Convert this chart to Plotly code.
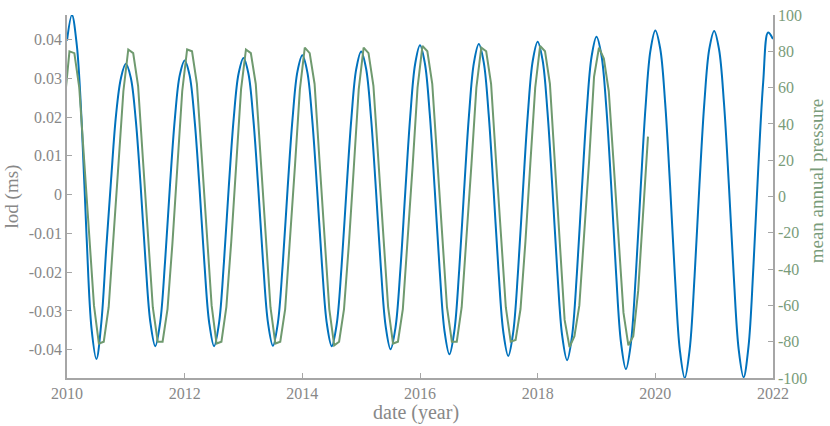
import numpy as np
import plotly.graph_objects as go

# lod (ms), monthly samples starting Jan 2010, last sample Jan 2022
lod_ms = [
    0.0397, 0.0463, 0.0385, 0.0185, -0.0110, -0.0345, -0.0424, -0.0330, -0.0140, 0.0040, 0.0205, 0.0300,
    0.0337, 0.0302, 0.0196, 0.0027, -0.0169, -0.0329, -0.0391, -0.0330, -0.0173, 0.0023, 0.0196, 0.0308,
    0.0346, 0.0308, 0.0196, 0.0023, -0.0173, -0.0330, -0.0391, -0.0332, -0.0176, 0.0020, 0.0196, 0.0312,
    0.0352, 0.0312, 0.0195, 0.0019, -0.0176, -0.0331, -0.0390, -0.0332, -0.0180, 0.0016, 0.0195, 0.0317,
    0.0359, 0.0317, 0.0196, 0.0016, -0.0180, -0.0333, -0.0391, -0.0335, -0.0185, 0.0011, 0.0196, 0.0324,
    0.0369, 0.0325, 0.0200, 0.0015, -0.0185, -0.0340, -0.0399, -0.0343, -0.0193, 0.0007, 0.0200, 0.0336,
    0.0385, 0.0338, 0.0206, 0.0014, -0.0192, -0.0352, -0.0412, -0.0352, -0.0194, 0.0012, 0.0206, 0.0340,
    0.0388, 0.0341, 0.0208, 0.0014, -0.0194, -0.0355, -0.0416, -0.0356, -0.0197, 0.0011, 0.0208, 0.0345,
    0.0394, 0.0347, 0.0214, 0.0017, -0.0197, -0.0364, -0.0427, -0.0366, -0.0204, 0.0010, 0.0214, 0.0356,
    0.0407, 0.0360, 0.0225, 0.0022, -0.0204, -0.0382, -0.0450, -0.0385, -0.0212, 0.0014, 0.0225, 0.0371,
    0.0423, 0.0376, 0.0237, 0.0025, -0.0212, -0.0401, -0.0473, -0.0400, -0.0211, 0.0026, 0.0237, 0.0375,
    0.0422, 0.0374, 0.0236, 0.0025, -0.0211, -0.0399, -0.0471, -0.0392, -0.0187, 0.0069, 0.0290, 0.0418,
    0.0401,
]
lod_start = 2010.0

# mean annual pressure, mid-month samples from Dec 2009 to Nov 2019
pressure = [
    52,
    80, 79, 60, 20, -22, -60, -81, -80, -61, -24, 18, 58,
    81, 79, 61, 20, -22, -61, -80, -80, -62, -26, 16, 58,
    81, 80, 62, 21, -21, -60, -81, -80, -61, -25, 17, 59,
    81, 79, 62, 21, -22, -61, -81, -80, -62, -25, 17, 59,
    82, 79, 62, 20, -23, -62, -82, -80, -62, -26, 16, 59,
    82, 79, 61, 20, -22, -61, -81, -80, -62, -25, 17, 60,
    83, 80, 62, 21, -21, -61, -80, -80, -61, -24, 18, 60,
    82, 80, 62, 20, -22, -61, -80, -79, -62, -25, 18, 60,
    83, 80, 62, 19, -24, -68, -83, -77, -60, -22, 20, 66,
    82, 76, 58, 18, -24, -64, -82, -77, -52, -10, 33,
]
pressure_start = 2009 + 11.5 / 12

left_ticks = [-0.04, -0.03, -0.02, -0.01, 0, 0.01, 0.02, 0.03, 0.04]
left_labels = ["-0.04", "-0.03", "-0.02", "-0.01", "0", "0.01", "0.02", "0.03", "0.04"]
right_ticks = [-100, -80, -60, -40, -20, 0, 20, 40, 60, 80, 100]
x_ticks = [2010, 2012, 2014, 2016, 2018, 2020, 2022]

lod_x = lod_start + np.arange(len(lod_ms)) / 12
pressure_x = pressure_start + np.arange(len(pressure)) / 12

BLUE = "#0072BD"
GREEN = "#6f9a6f"
GREEN_TXT = "#7a9c7a"
GREY = "#888888"
AXIS = "#a6a6a6"
FONT = "Liberation Serif"
TICK_FONT = dict(family=FONT, size=16, color=GREY)

fig = go.Figure()
fig.add_trace(go.Scatter(x=lod_x, y=lod_ms, mode="lines", line=dict(color=BLUE, width=2, shape="spline"),
                         name="lod", yaxis="y"))
fig.add_trace(go.Scatter(x=pressure_x, y=pressure, mode="lines", line=dict(color=GREEN, width=2),
                         name="mean annual pressure", yaxis="y2"))

axis_common = dict(showline=True, linecolor=AXIS, linewidth=1.5, ticks="inside", ticklen=5,
                   tickcolor=AXIS, showgrid=False, zeroline=False, ticklabeloverflow="allow")

fig.update_layout(
    width=830, height=426,
    margin=dict(l=67, r=57, t=7, b=48),
    paper_bgcolor="white", plot_bgcolor="white",
    showlegend=False,
    font=dict(family=FONT, size=16, color=GREY),
    xaxis=dict(range=[2010, 2022], tickvals=x_ticks, ticktext=[str(v) for v in x_ticks],
               tickfont=TICK_FONT, **axis_common),
    yaxis=dict(range=[-0.0473, 0.0463], tickvals=left_ticks, ticktext=left_labels,
               tickfont=TICK_FONT, **axis_common),
    yaxis2=dict(range=[-100, 100], tickvals=right_ticks, ticktext=[str(v) for v in right_ticks],
                overlaying="y", side="right", anchor="x",
                tickfont=dict(family=FONT, size=16, color=GREEN_TXT), **axis_common),
    annotations=[
        dict(text="date (year)", xref="paper", yref="paper", x=0.495, y=-0.095,
             xanchor="center", yanchor="middle", showarrow=False,
             font=dict(family=FONT, size=20, color=GREY)),
        dict(text="lod (ms)", xref="paper", yref="paper", x=-0.078, y=0.5, textangle=-90,
             xanchor="center", yanchor="middle", showarrow=False,
             font=dict(family=FONT, size=19, color=GREY)),
        dict(text="mean annual pressure", xref="paper", yref="paper", x=1.062, y=0.544, textangle=-90,
             xanchor="center", yanchor="middle", showarrow=False,
             font=dict(family=FONT, size=19, color=GREEN_TXT)),
    ],
)

# drop the page's default body margin so the figure sits at the window's corner
fig.write_html("out.html", config={"displayModeBar": False},
               post_script="document.body.style.margin = '0px';")
